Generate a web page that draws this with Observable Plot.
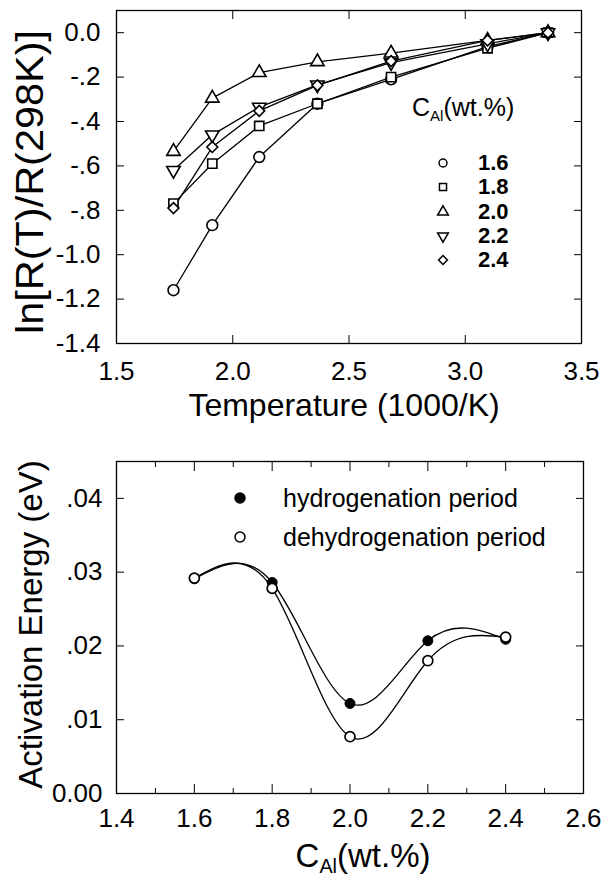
<!DOCTYPE html>
<html>
<head>
<meta charset="utf-8">
<script src="https://cdn.jsdelivr.net/npm/d3@7"></script>
<script src="https://cdn.jsdelivr.net/npm/@observablehq/plot@0.6"></script>
<style>
  body { margin: 0; background: #fff; font-family: "Liberation Sans", Arial, sans-serif; color: #000; }
  #wrap { position: relative; width: 602px; height: 881px; overflow: hidden; }
  #top, #bottom { position: absolute; left: 0; }
  #top { top: 0; }
  #bottom { top: 430px; }
  .legtitle { position: absolute; font-size: 25px; line-height: 30px; white-space: nowrap; }
  .legtitle sub { font-size: 15px; vertical-align: -5px; line-height: 0; }
  .legrow { position: absolute; height: 24px; line-height: 24px; white-space: nowrap; }
  .legrow svg { position: absolute; overflow: visible; }
  .legrow span { position: absolute; }
</style>
</head>
<body>
<div id="wrap">
  <div id="top"></div>
  <div id="bottom"></div>
</div>
<script>
// ---------- data: top panel ----------
const invT = [1.745, 1.912, 2.114, 2.364, 2.681, 3.096, 3.356]; // 1000/T (K^-1)
const concentrations = ["1.6", "1.8", "2.0", "2.2", "2.4"];       // C_Al (wt.%)
const lnR_16 = [-1.16, -0.867, -0.56, -0.32, -0.21, -0.063, 0];
const lnR_18 = [-0.77, -0.59, -0.42, -0.32, -0.20, -0.07, 0];
const lnR_20 = [-0.535, -0.295, -0.18, -0.131, -0.092, -0.035, 0];
const lnR_22 = [-0.62, -0.46, -0.335, -0.235, -0.135, -0.05, 0];
const lnR_24 = [-0.79, -0.515, -0.352, -0.237, -0.128, -0.035, 0];
const topYTicks = [0, -0.2, -0.4, -0.6, -0.8, -1.0, -1.2, -1.4];
const topYTickLabels = ["0.0", "-.2", "-.4", "-.6", "-.8", "-1.0", "-1.2", "-1.4"];
const topXTicks = [1.5, 2.0, 2.5, 3.0, 3.5];
const topXTickLabels = ["1.5", "2.0", "2.5", "3.0", "3.5"];

// ---------- data: bottom panel ----------
const cAl = [1.6, 1.8, 2.0, 2.2, 2.4];
const eaHydro = [0.0291, 0.0286, 0.0122, 0.0207, 0.0209];
const eaDehydro = [0.0292, 0.0278, 0.0077, 0.0180, 0.0212];
const botYTicks = [0, 0.01, 0.02, 0.03, 0.04];
const botYTickLabels = ["0.00", ".01", ".02", ".03", ".04"];
const botXTicks = [1.4, 1.6, 1.8, 2.0, 2.2, 2.4, 2.6];
const botXTickLabels = ["1.4", "1.6", "1.8", "2.0", "2.2", "2.4", "2.6"];
const botXMinor = [1.5, 1.7, 1.9, 2.1, 2.3, 2.5];

const seriesNames = ["hydrogenation period", "dehydrogenation period"];

// ---------- symbols ----------
const sqrt3 = Math.sqrt(3);
const triangleDown = {
  draw(ctx, size) {
    const y = -Math.sqrt(size / (sqrt3 * 3));
    ctx.moveTo(0, -y * 2);
    ctx.lineTo(-sqrt3 * y, y);
    ctx.lineTo(sqrt3 * y, y);
    ctx.closePath();
  }
};
const symbolFor = {"1.6": "circle", "1.8": "square", "2.0": "triangle", "2.2": triangleDown, "2.4": "diamond2"};
const radiusFor = {"1.6": 5.4, "1.8": 5.2, "2.0": 5.0, "2.2": 5.0, "2.4": 4.9};
const d3SymbolFor = {"1.6": d3.symbolCircle, "1.8": d3.symbolSquare, "2.0": d3.symbolTriangle, "2.2": triangleDown, "2.4": d3.symbolDiamond2};

const lnSeries = {"1.6": lnR_16, "1.8": lnR_18, "2.0": lnR_20, "2.2": lnR_22, "2.4": lnR_24};
const topData = concentrations.flatMap(c => invT.map((x, i) => ({c, x, y: lnSeries[c][i]})));

const fontFamily = '"Liberation Sans", Arial, sans-serif';
const lookup = (ticks, labels) => d => labels[ticks.findIndex(t => Math.abs(t - d) < 1e-9)];

// ---------- top plot ----------
const topPlot = Plot.plot({
  width: 602, height: 430,
  marginLeft: 116, marginRight: 21, marginTop: 10, marginBottom: 87,
  x: {domain: [1.5, 3.5]},
  y: {domain: [-1.4, 0.1]},
  style: {fontFamily, color: "black", background: "white", overflow: "visible"},
  marks: [
    Plot.frame({stroke: "black", strokeWidth: 1.3}),
    Plot.axisY({anchor: "left", ticks: topYTicks, tickFormat: lookup(topYTicks, topYTickLabels), tickSize: -8, tickPadding: 24, fontSize: 26, label: null}),
    Plot.axisY({anchor: "right", ticks: topYTicks, tickFormat: () => "", tickSize: -8, label: null}),
    Plot.axisX({anchor: "bottom", ticks: topXTicks, tickFormat: lookup(topXTicks, topXTickLabels), tickSize: -8, tickPadding: 26, fontSize: 26, label: null}),
    Plot.axisX({anchor: "top", ticks: topXTicks, tickFormat: () => "", tickSize: -8, label: null}),
    ...concentrations.map(c => Plot.line(topData.filter(d => d.c === c), {x: "x", y: "y", stroke: "black", strokeWidth: 1.3})),
    ...concentrations.map(c => Plot.dot(topData.filter(d => d.c === c), {
      x: "x", y: "y", symbol: symbolFor[c], r: radiusFor[c], fill: "white", stroke: "black", strokeWidth: 1.6
    })),
    Plot.text(["Temperature (1000/K)"], {text: d => d, frameAnchor: "bottom", textAnchor: "middle", lineAnchor: "middle", dy: 62, dx: -5, fontSize: 32}),
    Plot.text(["ln[R(T)/R(298K)]"], {text: d => d, frameAnchor: "left", textAnchor: "middle", lineAnchor: "middle", rotate: -90, dx: -86, dy: 5, fontSize: 38})
  ]
});
document.getElementById("top").appendChild(topPlot);

// stretch y title to the reference length
d3.select(topPlot).selectAll("text").filter(function() { return this.textContent === "ln[R(T)/R(298K)]"; })
  .attr("textLength", 304).attr("lengthAdjust", "spacingAndGlyphs");

// ---------- bottom plot ----------
const botData = [
  ...cAl.map((x, i) => ({s: seriesNames[0], x, y: eaHydro[i]})),
  ...cAl.map((x, i) => ({s: seriesNames[1], x, y: eaDehydro[i]}))
];
const botPlot = Plot.plot({
  width: 602, height: 451,
  marginLeft: 116, marginRight: 19, marginTop: 31, marginBottom: 88,
  x: {domain: [1.4, 2.6]},
  y: {domain: [0, 0.045]},
  style: {fontFamily, color: "black", background: "white", overflow: "visible"},
  marks: [
    Plot.frame({stroke: "black", strokeWidth: 1.3}),
    Plot.axisY({anchor: "left", ticks: botYTicks, tickFormat: lookup(botYTicks, botYTickLabels), tickSize: -8, tickPadding: 22, fontSize: 26, label: null}),
    Plot.axisY({anchor: "right", ticks: botYTicks, tickFormat: () => "", tickSize: -8, label: null}),
    Plot.axisX({anchor: "bottom", ticks: botXTicks, tickFormat: lookup(botXTicks, botXTickLabels), tickSize: -9, tickPadding: 24, fontSize: 26, label: null}),
    Plot.axisX({anchor: "top", ticks: botXTicks, tickFormat: () => "", tickSize: -9, label: null}),
    Plot.axisX({anchor: "bottom", ticks: botXMinor, tickFormat: () => "", tickSize: -5, label: null}),
    Plot.axisX({anchor: "top", ticks: botXMinor, tickFormat: () => "", tickSize: -5, label: null}),
    Plot.line(botData.filter(d => d.s === seriesNames[0]), {x: "x", y: "y", curve: "natural", stroke: "black", strokeWidth: 1.3}),
    Plot.line(botData.filter(d => d.s === seriesNames[1]), {x: "x", y: "y", curve: "natural", stroke: "black", strokeWidth: 1.3}),
    Plot.dot(botData.filter(d => d.s === seriesNames[0]), {x: "x", y: "y", r: 5, fill: "black", stroke: "black", strokeWidth: 1}),
    Plot.dot(botData.filter(d => d.s === seriesNames[1]), {x: "x", y: "y", r: 5, fill: "white", stroke: "black", strokeWidth: 1.7}),
    Plot.text(["C_Al(wt.%)"], {text: d => d, frameAnchor: "bottom", textAnchor: "middle", lineAnchor: "middle", dy: 63, dx: 13, fontSize: 33}),
    Plot.text(["Activation Energy (eV)"], {text: d => d, frameAnchor: "left", textAnchor: "middle", lineAnchor: "middle", rotate: -90, dx: -85, dy: -3, fontSize: 33})
  ]
});
document.getElementById("bottom").appendChild(botPlot);

// subscript for C_Al
d3.select(botPlot).selectAll("text").filter(function() { return this.textContent === "C_Al(wt.%)"; })
  .each(function() {
    const t = d3.select(this);
    t.text(null);
    t.append("tspan").text("C");
    t.append("tspan").attr("dy", 6).attr("font-size", "0.6em").text("Al");
    t.append("tspan").attr("dy", -6).text("(wt.%)");
  });

// ---------- legends (HTML) ----------
const wrap = document.getElementById("wrap");
function addSymbolSvg(row, symType, size, fill, x, yMid) {
  const svg = d3.select(row).append("svg").attr("width", 1).attr("height", 1)
    .style("left", x + "px").style("top", yMid + "px");
  svg.append("path").attr("d", d3.symbol(symType, size)())
    .attr("fill", fill).attr("stroke", "black").attr("stroke-width", 1.5);
}

// top legend
const lt = document.createElement("div");
lt.className = "legtitle";
lt.style.left = "412px"; lt.style.top = "92px";
lt.innerHTML = "C<sub>Al</sub>(wt.%)";
wrap.appendChild(lt);
const rowY = [163, 187, 212, 236, 260];
concentrations.forEach((c, i) => {
  const row = document.createElement("div");
  row.className = "legrow";
  row.style.left = "0px"; row.style.top = (rowY[i] - 12) + "px";
  row.style.width = "602px";
  wrap.appendChild(row);
  addSymbolSvg(row, d3SymbolFor[c], 50, "none", 443, 12);
  const s = document.createElement("span");
  s.textContent = c;
  s.style.left = "478px"; s.style.fontSize = "22px"; s.style.fontWeight = "bold";
  row.appendChild(s);
});

// bottom legend
const bRowY = [498, 537];
seriesNames.forEach((name, i) => {
  const row = document.createElement("div");
  row.className = "legrow";
  row.style.left = "0px"; row.style.top = (bRowY[i] - 15) + "px";
  row.style.height = "30px"; row.style.lineHeight = "30px";
  row.style.width = "602px";
  wrap.appendChild(row);
  addSymbolSvg(row, d3.symbolCircle, Math.PI * 25, i === 0 ? "black" : "white", 240, 15);
  const s = document.createElement("span");
  s.textContent = name;
  s.style.left = "283px"; s.style.fontSize = "25px";
  row.appendChild(s);
});
</script>
</body>
</html>
